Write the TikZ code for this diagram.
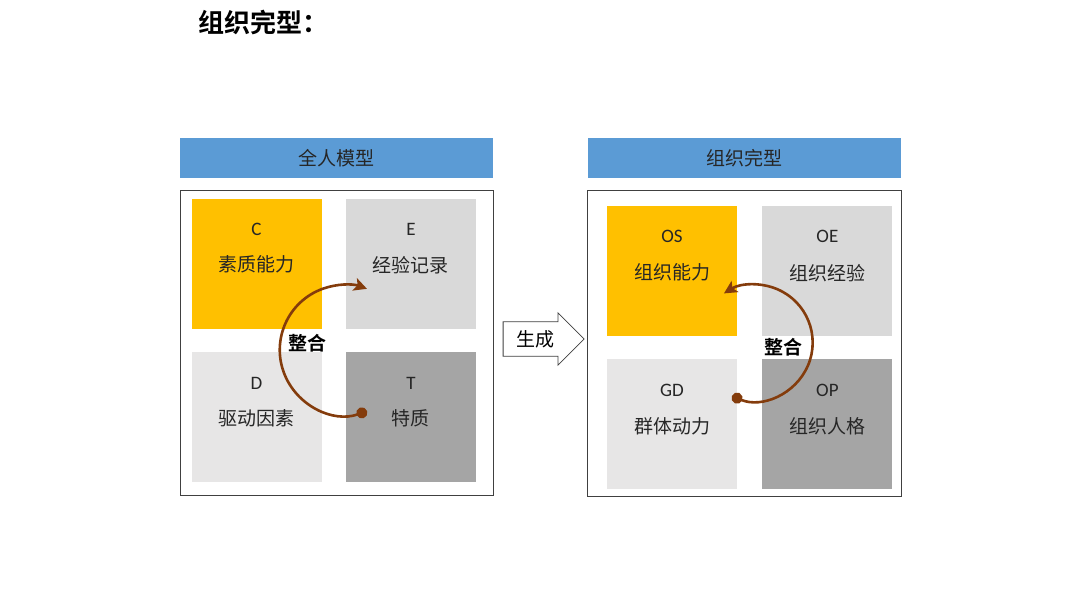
\documentclass[tikz,border=0pt]{standalone}
\usepackage{fontspec}
\setmainfont{Carlito}
\newfontfamily\cjk{Noto Sans CJK SC}[BoldFont={Noto Sans CJK SC Bold}]
\usetikzlibrary{positioning, arrows.meta, shapes.arrows}
\definecolor{headblue}{HTML}{5B9BD5}
\definecolor{gold}{HTML}{FFC000}
\definecolor{light}{HTML}{D9D9D9}
\definecolor{pale}{HTML}{E7E6E6}
\definecolor{dark}{HTML}{A5A5A5}
\definecolor{brownline}{HTML}{843C0C}
\definecolor{framegray}{HTML}{404040}
\tikzset{
	>=Stealth,
	head/.style={fill=headblue, minimum width=313pt, minimum height=40pt,
		font=\cjk\fontsize{19}{19}\selectfont, text=black!85},
	frame/.style={draw=framegray, line width=0.8pt},
	cell/.style={minimum size=130pt, inner sep=0pt},
	letter/.style={font=\fontsize{19}{19}\selectfont, text=black!85},
	word/.style={font=\cjk\fontsize{19}{19}\selectfont, text=black!85},
	turn/.style={draw=brownline, line width=2.6pt,
		{Circle[length=11pt]}-{Stealth[length=13pt, width=13pt, inset=3pt]}},
	joint/.style={font=\cjk\bfseries\fontsize{19}{19}\selectfont}}

\begin{document}
\begin{tikzpicture}[x=1pt, y=1pt]
		\useasboundingbox (0,0) rectangle (1080,608);
		\node[anchor=west, font=\cjk\bfseries\fontsize{26}{26}\selectfont] (title) at (195,586) {组织完型：};
		
		%left panel
		\node[head] (hl) at (336.5,450) {全人模型};
		\node[frame, minimum width=313pt, minimum height=305pt] (fl) at (336.5,265.5) {};
		\node[cell, fill=gold] (c) at (256.5,344) {};
		\node[cell, fill=light, right=24pt of c] (e) {};
		\node[cell, fill=pale, below=23pt of c] (d) {};
		\node[cell, fill=dark, below=23pt of e] (t) {};
		\node[letter] (cl) at ([yshift=-31pt]c.north) {C};
		\node[word] (cw) at ([yshift=-66pt]c.north) {素质能力};
		\node[letter] (el) at ([yshift=-31pt]e.north) {E};
		\node[word] (ew) at ([yshift=-66pt]e.north) {经验记录};
		\node[letter] (dl) at ([yshift=-31pt]d.north) {D};
		\node[word] (dw) at ([yshift=-66pt]d.north) {驱动因素};
		\node[letter] (tl) at ([yshift=-31pt]t.north) {T};
		\node[word] (tw) at ([yshift=-66pt]t.north) {特质};
		\coordinate (ls) at (367,197);
		\draw[turn] (ls) arc[start angle=-70, end angle=-290, radius=65];
		\node[joint] (jl) at (307,265) {整合};
		
		%middle arrow
		\node[single arrow, draw=framegray, fill=white, line width=0.8pt,
			single arrow head extend=9pt, minimum height=81pt, inner sep=8pt,
			font=\cjk\fontsize{19}{19}\selectfont] (gen) at (535,269) {生成};
		
		%right panel
		\node[head] (hr) at (744,450) {组织完型};
		\node[frame, minimum width=314pt, minimum height=306pt] (fr) at (744,265) {};
		\node[cell, fill=gold] (os) at (672,337) {};
		\node[cell, fill=light, right=25pt of os] (oe) {};
		\node[cell, fill=pale, below=23pt of os] (gd) {};
		\node[cell, fill=dark, below=23pt of oe] (op) {};
		\node[letter] (osl) at ([yshift=-31pt]os.north) {OS};
		\node[word] (osw) at ([yshift=-67pt]os.north) {组织能力};
		\node[letter] (oel) at ([yshift=-31pt]oe.north) {OE};
		\node[word] (oew) at ([yshift=-67pt]oe.north) {组织经验};
		\node[letter] (gdl) at ([yshift=-31pt]gd.north) {GD};
		\node[word] (gdw) at ([yshift=-67pt]gd.north) {群体动力};
		\node[letter] (opl) at ([yshift=-31pt]op.north) {OP};
		\node[word] (opw) at ([yshift=-67pt]op.north) {组织人格};
		\coordinate (rs) at (732,212);
		\draw[turn] (rs) arc[start angle=-113, end angle=122, radius=58];
		\node[joint] (jr) at (783,261) {整合};
	\end{tikzpicture}
\end{document}
